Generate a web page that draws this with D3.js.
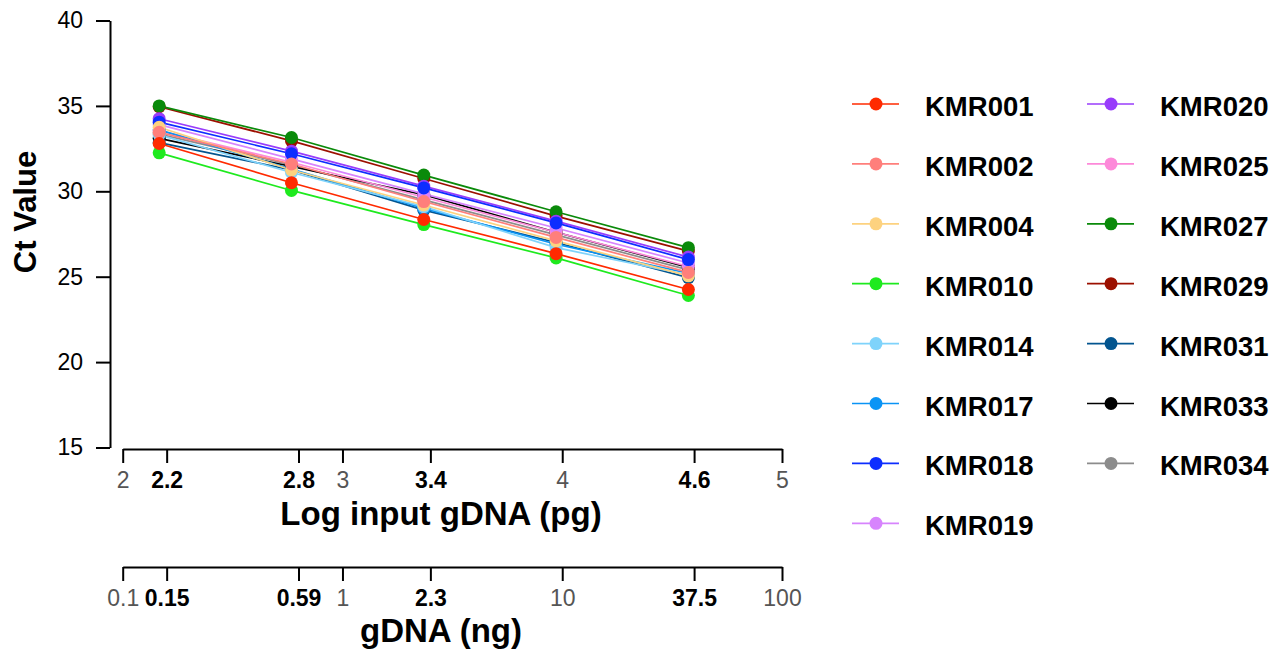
<!DOCTYPE html>
<html>
<head>
    <title>Ct vs log input gDNA</title>
    <style type="text/css">
        body { margin: 0; background: #fff; }
        svg text { font-family: Arial, "Liberation Sans", sans-serif; }
        .axis path, .axis line { stroke: #000; stroke-width: 2; }
        .gray text { fill: #555; font-size: 23px; font-weight: normal; }
        .bold text { fill: #000; font-size: 23px; font-weight: bold; }
        .yaxis text { fill: #000; font-size: 23px; }
        .title { font-size: 33px; font-weight: bold; }
        .legend text { font-size: 27.5px; font-weight: bold; }
    </style>
</head>
<body>
    <script src="https://d3js.org/d3.v7.min.js" type="text/javascript"></script>
    <script type="text/javascript">

        // log10 of input gDNA in pg (4-fold dilutions: 0.146 .. 37.5 ng)
        var logInput = [2.166, 2.768, 3.370, 3.972, 4.574];

        var samples = ['KMR001', 'KMR002', 'KMR004', 'KMR010', 'KMR014', 'KMR017', 'KMR018', 'KMR019',
                       'KMR020', 'KMR025', 'KMR027', 'KMR029', 'KMR031', 'KMR033', 'KMR034'];

        var colors = ['#ff2a00', '#ff7f7b', '#fdd27f', '#1eea1e', '#7fd3fb', '#0a94f5', '#0d2dff', '#d784fd',
                      '#983cfb', '#fd89d9', '#0a8a0a', '#9c1000', '#03558f', '#000000', '#8c8c8c'];

        var KMR001 = [32.8, 30.5, 28.35, 26.35, 24.25];
        var KMR002 = [33.45, 31.6, 29.4, 27.3, 25.25];
        var KMR004 = [33.75, 31.25, 29.2, 27.1, 25.05];
        var KMR010 = [32.25, 30.05, 28.05, 26.1, 23.9];
        var KMR014 = [33.3, 31.1, 29.1, 26.7, 25.1];
        var KMR017 = [33.6, 31.3, 29.0, 26.9, 25.2];
        var KMR018 = [34.05, 32.2, 30.2, 28.15, 26.0];
        var KMR019 = [33.9, 31.9, 29.85, 27.85, 25.8];
        var KMR020 = [34.25, 32.35, 30.3, 28.25, 26.15];
        var KMR025 = [33.55, 31.7, 29.65, 27.6, 25.6];
        var KMR027 = [35.0, 33.15, 30.95, 28.8, 26.7];
        var KMR029 = [34.95, 32.95, 30.75, 28.55, 26.5];
        var KMR031 = [32.85, 31.25, 28.9, 27.0, 24.95];
        var KMR033 = [33.1, 31.45, 29.8, 27.6, 25.55];
        var KMR034 = [33.35, 31.55, 29.5, 27.45, 25.4];

        var ctValues = [KMR001, KMR002, KMR004, KMR010, KMR014, KMR017, KMR018, KMR019,
                        KMR020, KMR025, KMR027, KMR029, KMR031, KMR033, KMR034];

        var yTicks = [15, 20, 25, 30, 35, 40];
        var xTicksMajor = [2, 3, 4, 5];
        var xTicksMarked = [2.2, 2.8, 3.4, 4.6];
        var ngTicksMajor = [0.1, 1, 10, 100];
        var ngTickLabels = ['0.15', '0.59', '2.3', '37.5'];

        var series = samples.map(function (name, i) {
            return {
                name: name,
                color: colors[i],
                points: logInput.map(function (x, j) { return { x: x, y: ctValues[i][j] }; })
            };
        });

        var svg = d3.select('body').append('svg')
            .attr('width', 1282)
            .attr('height', 649);

        var x = d3.scaleLinear().domain([2, 5]).range([122.7, 782]);
        var y = d3.scaleLinear().domain([15, 40]).range([447.5, 20.5]);
        var xng = d3.scaleLog().domain([0.1, 100]).range([122.7, 782]);

        // y axis
        svg.append('g')
            .attr('class', 'axis yaxis')
            .attr('transform', 'translate(110,0)')
            .call(d3.axisLeft(y).tickValues(yTicks).tickSize(14).tickSizeOuter(0).tickPadding(13));

        // upper x axis (log pg)
        svg.append('g')
            .attr('class', 'axis gray')
            .attr('transform', 'translate(0,449)')
            .call(d3.axisBottom(x).tickValues(xTicksMajor).tickSize(14).tickSizeOuter(0).tickPadding(9)
                .tickFormat(d3.format('d')));
        svg.append('g')
            .attr('class', 'axis bold')
            .attr('transform', 'translate(0,449)')
            .call(d3.axisBottom(x).tickValues(xTicksMarked).tickSize(14).tickSizeOuter(0).tickPadding(9)
                .tickFormat(d3.format('.1f')))
            .select('.domain').remove();

        // lower x axis (ng)
        svg.append('g')
            .attr('class', 'axis gray')
            .attr('transform', 'translate(0,567)')
            .call(d3.axisBottom(xng).tickValues(ngTicksMajor).tickSize(14).tickSizeOuter(0).tickPadding(9)
                .tickFormat(function (d) { return String(d); }));
        svg.append('g')
            .attr('class', 'axis bold')
            .attr('transform', 'translate(0,567)')
            .call(d3.axisBottom(xng)
                .tickValues(xTicksMarked.map(function (v) { return Math.pow(10, v - 3); }))
                .tickSize(14).tickSizeOuter(0).tickPadding(9)
                .tickFormat(function (d, i) { return ngTickLabels[i]; }))
            .select('.domain').remove();

        // titles
        svg.append('text').attr('class', 'title')
            .attr('x', 441).attr('y', 525).attr('text-anchor', 'middle')
            .text('Log input gDNA (pg)');
        svg.append('text').attr('class', 'title')
            .attr('x', 441).attr('y', 642).attr('text-anchor', 'middle')
            .text('gDNA (ng)');
        svg.append('text').attr('class', 'title')
            .attr('transform', 'translate(36,212) rotate(-90)')
            .attr('text-anchor', 'middle')
            .style('font-size', '31px')
            .text('Ct Value');

        var line = d3.line()
            .x(function (d) { return x(d.x); })
            .y(function (d) { return y(d.y); });

        // later samples first, so low numbers end on top
        var drawOrder = series.slice().reverse();

        svg.append('g').selectAll('path')
            .data(drawOrder)
            .enter().append('path')
            .attr('d', function (d) { return line(d.points); })
            .attr('fill', 'none')
            .attr('stroke', function (d) { return d.color; })
            .attr('stroke-width', 1.7);

        var dots = svg.append('g').selectAll('g')
            .data(drawOrder)
            .enter().append('g')
            .attr('fill', function (d) { return d.color; });
        dots.selectAll('circle')
            .data(function (d) { return d.points; })
            .enter().append('circle')
            .attr('cx', function (d) { return x(d.x); })
            .attr('cy', function (d) { return y(d.y); })
            .attr('r', 6.5);

        // legend, two columns
        var legend = svg.append('g').attr('class', 'legend')
            .selectAll('g')
            .data(series)
            .enter().append('g')
            .attr('transform', function (d, i) {
                var col = i < 8 ? 0 : 1;
                var row = i < 8 ? i : i - 8;
                return 'translate(' + (876 + col * 235) + ',' + (104 + row * 59.9) + ')';
            });
        legend.append('line')
            .attr('x1', -24).attr('x2', 23)
            .attr('stroke', function (d) { return d.color; })
            .attr('stroke-width', 1.7);
        legend.append('circle')
            .attr('r', 6.5)
            .attr('fill', function (d) { return d.color; });
        legend.append('text')
            .attr('x', 49).attr('y', 12)
            .text(function (d) { return d.name; });

    </script>
</body>
</html>
